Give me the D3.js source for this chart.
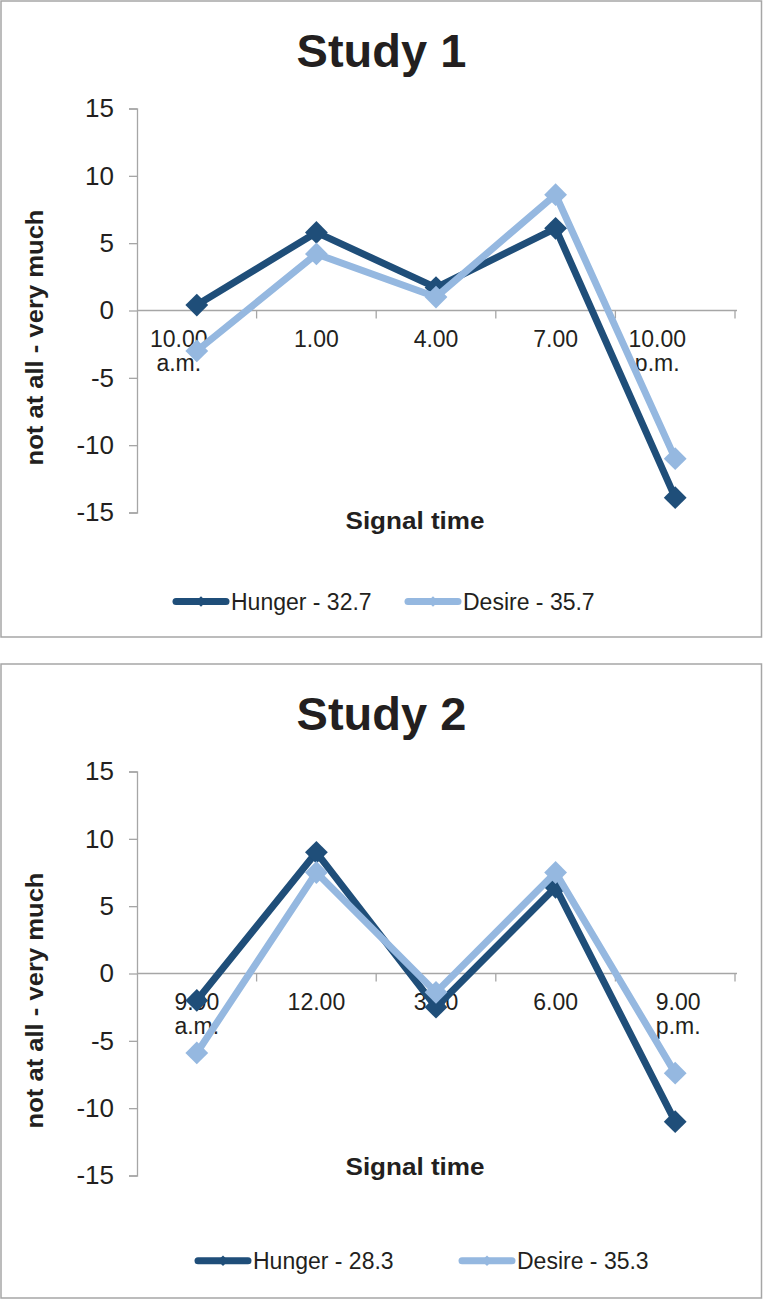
<!DOCTYPE html>
<html>
<head>
<meta charset="utf-8">
<script src="https://cdn.jsdelivr.net/npm/d3@7"></script>
<style>
  html, body { margin: 0; padding: 0; background: #fff; }
  svg { display: block; }
  text { font-family: "Liberation Sans", Arial, sans-serif; fill: #231f20; }
</style>
</head>
<body>
<svg id="chart" width="763" height="1300"></svg>
<script>
// ---- data ----
const categoriesStudy1 = ["10.00|a.m.", "1.00", "4.00", "7.00", "10.00|p.m."];
const hungerStudy1 = [0.4, 5.8, 1.7, 6.1, -13.9];
const desireStudy1 = [-3.0, 4.2, 1.0, 8.6, -11.0];
const legendStudy1 = ["Hunger - 32.7", "Desire - 35.7"];

const categoriesStudy2 = ["9.00|a.m.", "12.00", "3.00", "6.00", "9.00|p.m."];
const hungerStudy2 = [-2.0, 9.0, -2.5, 6.4, -11.0];
const desireStudy2 = [-5.9, 7.5, -1.4, 7.5, -7.4];
const legendStudy2 = ["Hunger - 28.3", "Desire - 35.3"];

const yTickValues = [-15, -10, -5, 0, 5, 10, 15];
const yDomain = [-15, 15];
const titles = ["Study 1", "Study 2"];
const yAxisTitle = "not at all - very much";
const xAxisTitle = "Signal time";

// ---- layout / styles ----
const colors = { hunger: "#1f4e79", desire: "#95b8e0" };
const panels = [
  { top: 1, height: 636, title: titles[0], cats: categoriesStudy1, hunger: hungerStudy1, desire: desireStudy1,
    legend: legendStudy1, labelShift: [-18, 0, 0, 0, -18], xTitleY: 528, legendY: 600.5, legendX: [173, 405] },
  { top: 664, height: 634, title: titles[1], cats: categoriesStudy2, hunger: hungerStudy2, desire: desireStudy2,
    legend: legendStudy2, labelShift: [0, 0, 0, 0, 3], xTitleY: 511, legendY: 596.7, legendX: [195, 459] }
];

const svg = d3.select("#chart");
svg.append("rect").attr("width", 763).attr("height", 1300).attr("fill", "#fff");

const diamond = d3.symbol().type(d3.symbolSquare);

panels.forEach(p => {
  const g = svg.append("g").attr("transform", `translate(0,${p.top})`);
  g.append("rect")
    .attr("x", 1).attr("y", 0).attr("width", 760.5).attr("height", p.height)
    .attr("fill", "#fff").attr("stroke", "#a6a6a6").attr("stroke-width", 1.5);

  g.append("text")
    .attr("x", 381.5).attr("y", 66)
    .attr("text-anchor", "middle")
    .attr("font-size", 47).attr("font-weight", "bold")
    .attr("fill", "#1a1a1a")
    .text(p.title);

  const x = d3.scaleBand().domain(p.cats).range([137, 735]).padding(0);
  const y = d3.scaleLinear().domain(yDomain).range([511.5, 107.5]);
  const cx = c => x(c) + x.bandwidth() / 2;

  // y axis
  const yAxis = g.append("g").attr("transform", "translate(137,0)")
    .call(d3.axisLeft(y).tickValues(yTickValues).tickSize(8).tickPadding(15).tickFormat(d => String(d)));
  yAxis.select(".domain").attr("stroke", "#a6a6a6").attr("stroke-width", 1.3);
  yAxis.selectAll(".tick line").attr("stroke", "#a6a6a6").attr("stroke-width", 1.3);
  yAxis.selectAll(".tick text")
    .attr("font-size", 26).attr("font-family", "Liberation Sans, Arial, sans-serif").attr("fill", "#231f20");

  // x axis at zero line
  const y0 = y(0);
  g.append("line").attr("x1", 137).attr("x2", 737).attr("y1", y0).attr("y2", y0)
    .attr("stroke", "#a6a6a6").attr("stroke-width", 1.3);
  g.selectAll(".xtick").data(p.cats).enter().append("line")
    .attr("x1", c => x(c) + x.bandwidth()).attr("x2", c => x(c) + x.bandwidth())
    .attr("y1", y0).attr("y2", y0 + 8)
    .attr("stroke", "#a6a6a6").attr("stroke-width", 1.3);

  // category labels
  p.cats.forEach((c, i) => {
    const t = g.append("text")
      .attr("text-anchor", "middle")
      .attr("font-size", 23)
      .attr("transform", `translate(${cx(c) + p.labelShift[i]},${y0 + 36})`);
    c.split("|").forEach((line, j) => {
      t.append("tspan").attr("x", 0).attr("y", j * 24).text(line);
    });
  });

  // axis titles
  g.append("text")
    .attr("transform", `translate(43,${y0 + 27}) rotate(-90)`)
    .attr("text-anchor", "middle")
    .attr("font-size", 23).attr("font-weight", "bold")
    .attr("textLength", 256).attr("lengthAdjust", "spacingAndGlyphs")
    .text(yAxisTitle);

  g.append("text")
    .attr("x", 415).attr("y", p.xTitleY)
    .attr("text-anchor", "middle")
    .attr("font-size", 23).attr("font-weight", "bold")
    .attr("textLength", 139).attr("lengthAdjust", "spacingAndGlyphs")
    .text(xAxisTitle);

  // series
  const series = [
    { key: "hunger", values: p.hunger },
    { key: "desire", values: p.desire }
  ];
  const line = d3.line().x(d => cx(d.c)).y(d => y(d.v));
  series.forEach(s => {
    const pts = p.cats.map((c, i) => ({ c, v: s.values[i] }));
    g.append("path").datum(pts)
      .attr("d", line)
      .attr("fill", "none")
      .attr("stroke", colors[s.key])
      .attr("stroke-width", 7)
      .attr("stroke-linejoin", "round");
    g.selectAll(".m-" + s.key).data(pts).enter().append("path")
      .attr("d", diamond.size(260)())
      .attr("transform", d => `translate(${cx(d.c)},${y(d.v)}) rotate(45)`)
      .attr("fill", colors[s.key]);
  });

  // legend
  series.forEach((s, i) => {
    const lx = p.legendX[i];
    const lg = g.append("g").attr("transform", `translate(${lx},${p.legendY})`);
    lg.append("line").attr("x1", 3).attr("x2", 53).attr("y1", 0).attr("y2", 0)
      .attr("stroke", colors[s.key]).attr("stroke-width", 7).attr("stroke-linecap", "round");
    lg.append("path").attr("d", d3.symbol().type(d3.symbolSquare).size(55)())
      .attr("transform", "translate(28,0) rotate(45)")
      .attr("fill", colors[s.key]);
    lg.append("text").attr("x", 58).attr("y", 8.5)
      .attr("font-size", 23)
      .text(p.legend[i]);
  });
});
</script>
</body>
</html>
